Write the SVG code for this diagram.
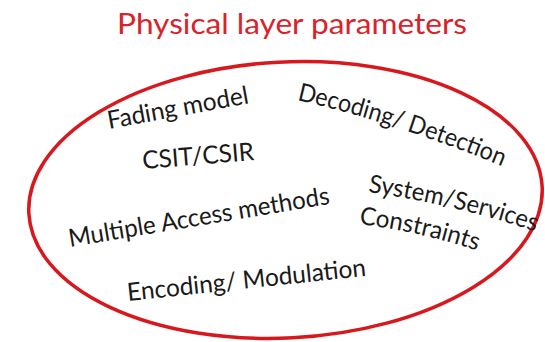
<svg xmlns="http://www.w3.org/2000/svg" width="545" height="342" viewBox="0 0 545 342">
<style>
.lbl{font-family:Lato,"Open Sans","Liberation Sans",sans-serif;font-size:25px;fill:#1a1a1a}
.title{font-family:Lato,"Open Sans","Liberation Sans",sans-serif;font-size:28px;fill:#d9232a}
.ring{fill:none;stroke:#d7191f;stroke-width:3.5}
</style>
<defs>
<path id="pDec" d="M297,100 Q397,123 504,167"/>
<path id="pSys" d="M368,192 Q457,205 537,232"/>
<path id="pCon" d="M359,224 Q422,232 478,251"/>
</defs>
<rect width="545" height="342" fill="#ffffff"/>
<g id="title"><text class="title" x="117" y="34" textLength="350" lengthAdjust="spacingAndGlyphs">Physical layer parameters</text></g>
<g id="boundary"><ellipse class="ring" cx="285.5" cy="200" rx="257" ry="138" transform="rotate(-3 285.5 200)"/></g>
<g id="fading"><text class="lbl" transform="translate(109,129) rotate(-10.4)" textLength="143" lengthAdjust="spacingAndGlyphs">Fading model</text></g>
<g id="csit"><text class="lbl" transform="translate(143,169) rotate(-4.6)" textLength="112" lengthAdjust="spacingAndGlyphs">CSIT/CSIR</text></g>
<g id="decoding"><text class="lbl"><textPath href="#pDec" textLength="216" lengthAdjust="spacingAndGlyphs">Decoding/ Detection</textPath></text></g>
<g id="multiple"><text class="lbl" transform="translate(70,247) rotate(-9.4)" textLength="264" lengthAdjust="spacingAndGlyphs">Multiple Access methods</text></g>
<g id="system"><text class="lbl"><textPath href="#pSys" textLength="172" lengthAdjust="spacingAndGlyphs">System/Services</textPath></text></g>
<g id="constraints"><text class="lbl"><textPath href="#pCon" textLength="121" lengthAdjust="spacingAndGlyphs">Constraints</textPath></text></g>
<g id="encoding"><text class="lbl" transform="translate(128,301) rotate(-6)" textLength="240" lengthAdjust="spacingAndGlyphs">Encoding/ Modulation</text></g>
<g id="connectors"/>
</svg>
